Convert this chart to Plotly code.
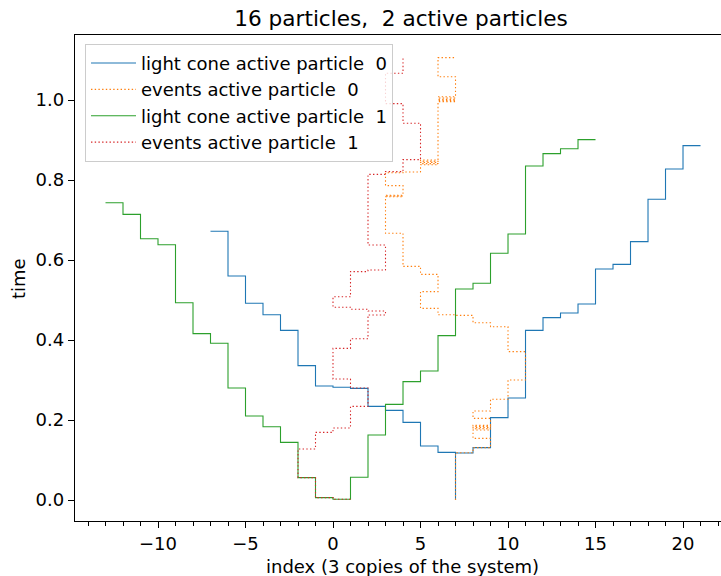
import plotly.graph_objects as go

# ---------------- data ----------------
# light cone of active particle 0 (step 'post'; x=7 appears twice -> spike to 0)
cone0_x = [-7, -6, -5, -4, -3, -2, -1, 0, 1, 2, 3, 4, 5, 6, 7, 7,
           8, 9, 10, 11, 12, 13, 14, 15, 16, 17, 18, 19, 20, 21]
cone0_t = [0.672, 0.56, 0.492, 0.463, 0.424, 0.336, 0.285, 0.282, 0.279, 0.234,
           0.224, 0.194, 0.135, 0.119, 0.0, 0.1175,
           0.131, 0.206, 0.255, 0.424, 0.456, 0.4675, 0.49, 0.5775, 0.589, 0.646,
           0.752, 0.8275, 0.886, 0.886]

# events of active particle 0 (position, time)
ev0_x = [7, 7, 8, 9, 8, 9, 8, 9, 8, 9, 8, 9, 10, 11, 10, 9, 8, 7, 6, 5, 6, 5, 4,
         3, 4, 3, 4, 3, 4, 5, 6, 5, 6, 5, 6, 7, 6, 7, 6, 7, 6, 7]
ev0_t = [0.0, 0.118, 0.131, 0.154, 0.175, 0.178, 0.181, 0.184, 0.187, 0.204,
         0.2225, 0.2517, 0.30, 0.371, 0.433, 0.443, 0.4615, 0.463, 0.479, 0.521,
         0.564, 0.584, 0.667, 0.758, 0.760, 0.762, 0.786, 0.818, 0.82, 0.838,
         0.841, 0.844, 0.847, 0.85, 0.996, 0.999, 1.002, 1.005, 1.008, 1.058,
         1.106, 1.106]

# light cone of active particle 1
cone1_x = list(range(-13, 16))
cone1_t = [0.743, 0.714, 0.653, 0.638, 0.493, 0.416, 0.392, 0.28, 0.21, 0.183,
           0.144, 0.056, 0.006, 0.002, 0.057, 0.1625, 0.239, 0.296, 0.3225, 0.411,
           0.5275, 0.542, 0.617, 0.665, 0.835, 0.866, 0.878, 0.901, 0.901]

# events of active particle 1 (position, time)
ev1_x = [1, 0, -1, -2, -1, 0, 1, 2, 1, 0, 1, 2, 3, 2, 1, 0, 1, 2, 3, 2, 3, 4, 5,
         4, 3, 4]
ev1_t = [0.002, 0.006, 0.056, 0.1275, 0.169, 0.18, 0.234, 0.28, 0.3025, 0.379,
         0.403, 0.4625, 0.4725, 0.477, 0.482, 0.508, 0.571, 0.575, 0.6375, 0.814,
         0.821, 0.851, 0.942, 0.991, 1.067, 1.104]

names = ["light cone active particle  0", "events active particle  0",
         "light cone active particle  1", "events active particle  1"]
colors = ["#1f77b4", "#ff7f0e", "#2ca02c", "#d62728"]

title_text = "16 particles,  2 active particles"
xlabel = "index (3 copies of the system)"
ylabel = "time"
x_ticks = [-10, -5, 0, 5, 10, 15, 20]
y_ticks = [0.0, 0.2, 0.4, 0.6, 0.8, 1.0]

# ---------------- figure ----------------
FONT = "DejaVu Sans"
FS = 18
W, H = 721, 576
L, T, B = 75, 35, 55

fig = go.Figure()
series = [(cone0_x, cone0_t, "solid"), (ev0_x, ev0_t, "1.4px,2.3px"),
          (cone1_x, cone1_t, "solid"), (ev1_x, ev1_t, "1.4px,2.3px")]
for (xs, ts, dash), name, col in zip(series, names, colors):
    fig.add_trace(go.Scatter(x=xs, y=ts, mode="lines", name=name,
                             line=dict(color=col, width=1.1, dash=dash, shape="hv")))

fig.update_layout(
    width=W, height=H,
    margin=dict(l=L, r=0, t=T, b=B, pad=0),
    plot_bgcolor="white", paper_bgcolor="white",
    font=dict(family=FONT, size=FS, color="black"),
    showlegend=True,
    legend=dict(x=0.0155, y=0.982, xanchor="left", yanchor="top",
                bgcolor="rgba(255,255,255,0.8)", bordercolor="#cccccc",
                borderwidth=1, font=dict(family=FONT, size=FS),
                tracegroupgap=0, itemwidth=45),
    title=dict(text=title_text, x=0.5046, xref="paper", xanchor="center",
               y=1 - 18 / H, yref="container", yanchor="middle",
               font=dict(family=FONT, size=21.6)),
)
fig.update_xaxes(range=[-14.743, 22.171], tickvals=x_ticks, ticks="outside",
                 ticklen=6, tickwidth=1.3, tickcolor="black",
                 minor=dict(dtick=1, tick0=0, ticks="outside", ticklen=3.5,
                            tickcolor="black", tickwidth=1),
                 showline=True, linecolor="black", linewidth=1.3, mirror=True,
                 showgrid=False, zeroline=False,
                 tickfont=dict(family=FONT, size=FS))
fig.update_yaxes(range=[-0.0525, 1.1625], tickvals=y_ticks, tickformat=".1f",
                 ticks="outside", ticklen=6, tickwidth=1.3, tickcolor="black",
                 showline=True, linecolor="black", linewidth=1.3, mirror=False,
                 showgrid=False, zeroline=False,
                 tickfont=dict(family=FONT, size=FS))

fig.add_annotation(text=xlabel, xref="paper", yref="paper", x=(402 - L) / (W - L),
                   y=-(566 - (H - B)) / (H - T - B), xanchor="center", yanchor="middle",
                   showarrow=False, font=dict(family=FONT, size=FS))
fig.add_annotation(text=ylabel, xref="paper", yref="paper", x=-(L - 18) / (W - L),
                   y=0.5, xanchor="center", yanchor="middle", textangle=-90,
                   showarrow=False, font=dict(family=FONT, size=FS))

fig.write_html("out.html")
